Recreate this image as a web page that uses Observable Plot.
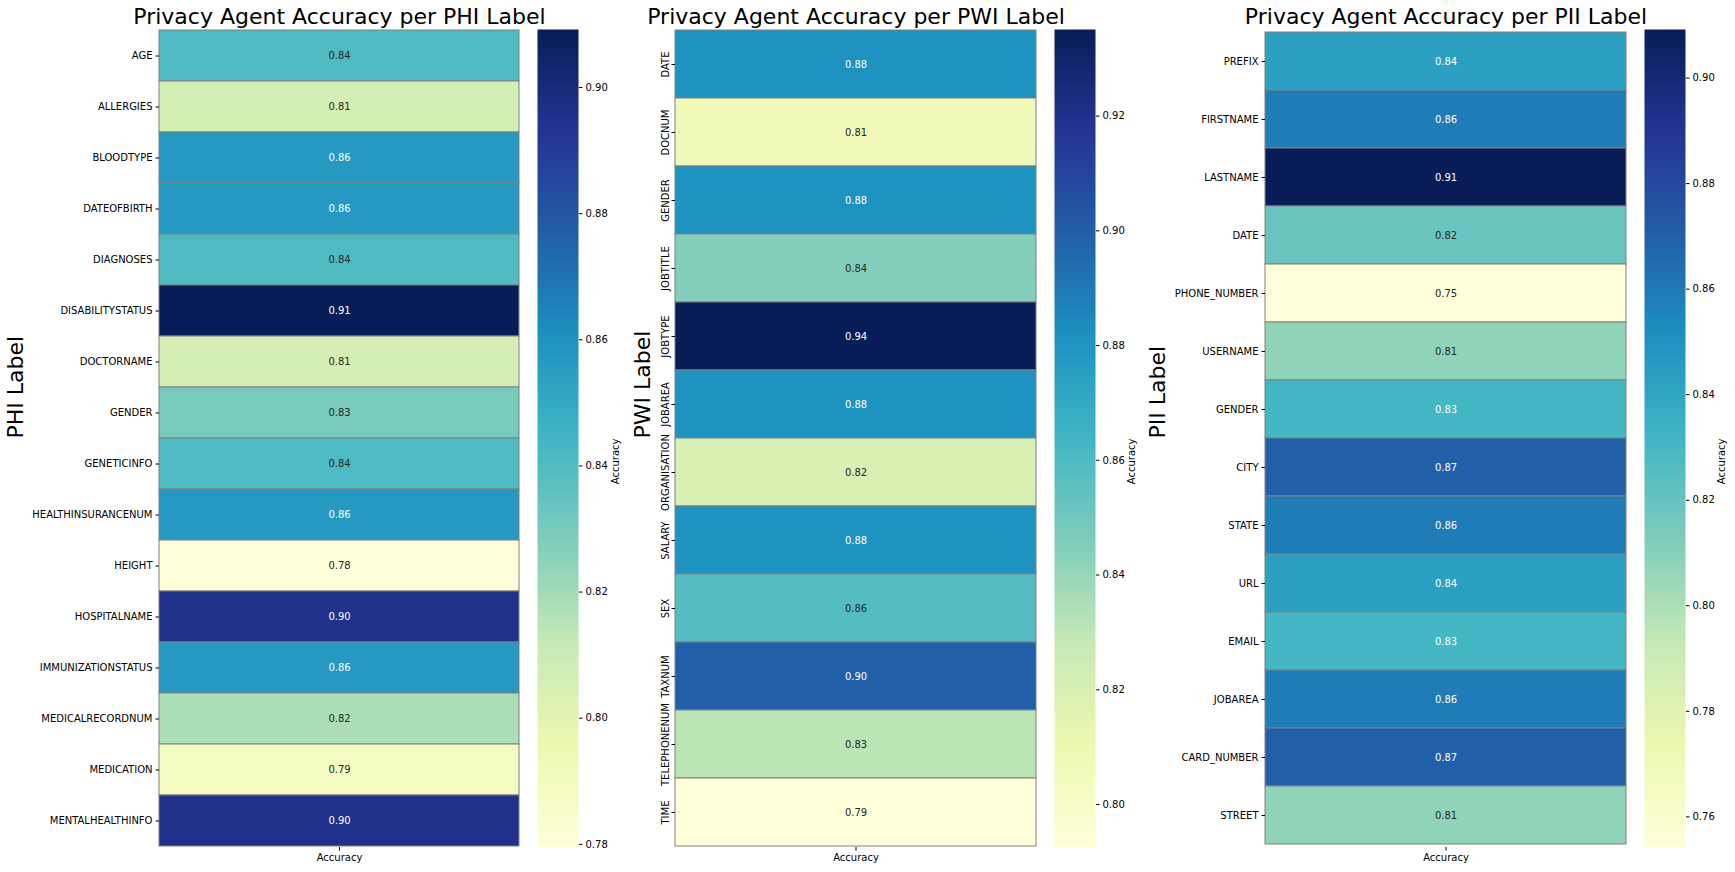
<!DOCTYPE html>
<html>
<head>
<meta charset="utf-8">
<script src="https://cdn.jsdelivr.net/npm/d3@7"></script>
<script src="https://cdn.jsdelivr.net/npm/@observablehq/plot@0.6"></script>
<style>
  html, body { margin: 0; padding: 0; background: #ffffff; }
  #fig { position: relative; width: 1735px; height: 872px; font-family: "DejaVu Sans", sans-serif; }
  #fig svg { position: absolute; top: 0; overflow: visible; max-width: none; }
</style>
</head>
<body>
<div id="fig"></div>
<script>
// ---------- data ----------
const phiLabels = ["AGE","ALLERGIES","BLOODTYPE","DATEOFBIRTH","DIAGNOSES","DISABILITYSTATUS","DOCTORNAME","GENDER","GENETICINFO","HEALTHINSURANCENUM","HEIGHT","HOSPITALNAME","IMMUNIZATIONSTATUS","MEDICALRECORDNUM","MEDICATION","MENTALHEALTHINFO"];
const phiValues = [0.841, 0.806, 0.857, 0.857, 0.841, 0.9092, 0.806, 0.830, 0.841, 0.857, 0.7795, 0.8955, 0.857, 0.818, 0.789, 0.8955];

const pwiLabels = ["DATE","DOCNUM","GENDER","JOBTITLE","JOBTYPE","JOBAREA","ORGANISATION","SALARY","SEX","TAXNUM","TELEPHONENUM","TIME"];
const pwiValues = [0.881, 0.807, 0.881, 0.845, 0.9351, 0.881, 0.820, 0.881, 0.858, 0.899, 0.831, 0.7925];

const piiLabels = ["PREFIX","FIRSTNAME","LASTNAME","DATE","PHONE_NUMBER","USERNAME","GENDER","CITY","STATE","URL","EMAIL","JOBAREA","CARD_NUMBER","STREET"];
const piiValues = [0.843, 0.859, 0.9092, 0.819, 0.7542, 0.808, 0.831, 0.870, 0.859, 0.843, 0.831, 0.859, 0.870, 0.808];

const phiTicks = [0.78, 0.80, 0.82, 0.84, 0.86, 0.88, 0.90];
const pwiTicks = [0.80, 0.82, 0.84, 0.86, 0.88, 0.90, 0.92];
const piiTicks = [0.76, 0.78, 0.80, 0.82, 0.84, 0.86, 0.88, 0.90];

const metricName = "Accuracy";
const titles = ["Privacy Agent Accuracy per PHI Label", "Privacy Agent Accuracy per PWI Label", "Privacy Agent Accuracy per PII Label"];
const yTitles = ["PHI Label", "PWI Label", "PII Label"];

// YlGnBu (ColorBrewer 9-class, linear like matplotlib)
const ylgnbu = ["#ffffd9","#edf8b1","#c7e9b4","#7fcdbb","#41b6c4","#1d91c0","#225ea8","#253494","#081d58"];
const interp = d3.piecewise(d3.interpolateRgb, ylgnbu);

// ---------- layout ----------
const H = 872, MT = 29, MB = 25;
const FONT = "DejaVu Sans";

function luminance(c) {
  const rgb = d3.rgb(c);
  const lin = v => { v /= 255; return v <= 0.03928 ? v / 12.92 : Math.pow((v + 0.055) / 1.055, 2.4); };
  return 0.2126 * lin(rgb.r) + 0.7152 * lin(rgb.g) + 0.0722 * lin(rgb.b);
}

function panel(cfg) {
  const { title, ytitle, labels, values, svgLeft, frameLeft, frameRight, cbLeft, cbRight, cbTicks, rotate, ylabelX, cbLabelX } = cfg;
  const data = labels.map((l, i) => ({ label: l, metric: metricName, value: values[i] }));
  const [lo, hi] = d3.extent(values);
  const colorOpts = { type: "linear", domain: [lo, hi], interpolate: interp };
  const cs = Plot.scale({ color: colorOpts });
  const txtColor = d => luminance(cs.apply(d.value)) > 0.408 ? "#262626" : "#ffffff";

  const heat = Plot.plot({
    width: frameRight - svgLeft,
    height: H,
    marginLeft: frameLeft - svgLeft,
    marginRight: 0,
    marginTop: MT,
    marginBottom: MB,
    style: { fontFamily: FONT, fontSize: "10px", color: "#000", background: "transparent", overflow: "visible" },
    x: { type: "band", domain: [metricName], padding: 0, label: null },
    y: { type: "band", domain: labels, padding: 0, label: null },
    color: colorOpts,
    marks: [
      Plot.cell(data, { x: "metric", y: "label", fill: "value", stroke: "#808080", strokeWidth: 1 }),
      Plot.text(data, { x: "metric", y: "label", text: d => d.value.toFixed(2), fill: txtColor, fontSize: 10 }),
      Plot.axisY(rotate
        ? { tickSize: 3.5, tickPadding: 3.5, tickRotate: -90, label: null, fontSize: 10 }
        : { tickSize: 3.5, tickPadding: 3.5, label: null, fontSize: 10 }),
      Plot.axisX({ tickSize: 3.5, tickPadding: 3, label: null, fontSize: 10 }),
      Plot.text([title], { frameAnchor: "top", dy: -6, lineAnchor: "bottom", fontSize: 22, fill: "#000" }),
      Plot.text([ytitle], { frameAnchor: "left", dx: ylabelX - frameLeft, rotate: -90, fontSize: 22, fill: "#000" })
    ]
  });
  heat.style.left = svgLeft + "px";

  const cbW = cbRight - cbLeft;
  const cb = Plot.plot({
    width: cbW + 50,
    height: H,
    marginLeft: 0,
    marginRight: 50,
    marginTop: MT,
    marginBottom: MB,
    style: { fontFamily: FONT, fontSize: "10px", color: "#000", background: "transparent", overflow: "visible" },
    x: { domain: [0, 1], axis: null },
    y: { domain: [lo, hi], axis: null },
    color: colorOpts,
    marks: [
      Plot.raster({ x1: 0, x2: 1, y1: lo, y2: hi, fill: (x, y) => y, width: 1, height: 600 }),
      Plot.axisY({ anchor: "right", ticks: cbTicks, tickFormat: ".2f", tickSize: 3.5, tickPadding: 3.5, label: null, fontSize: 10 }),
      Plot.text([metricName], { frameAnchor: "right", dx: cbLabelX - cbRight, rotate: -90, fontSize: 10, fill: "#000" })
    ]
  });
  cb.style.left = cbLeft + "px";

  const fig = document.getElementById("fig");
  fig.appendChild(heat);
  fig.appendChild(cb);
}

panel({ title: titles[0], ytitle: yTitles[0], labels: phiLabels, values: phiValues,
  svgLeft: 0, frameLeft: 159, frameRight: 519, cbLeft: 537, cbRight: 578, cbTicks: phiTicks,
  rotate: false, ylabelX: 15, cbLabelX: 615 });
panel({ title: titles[1], ytitle: yTitles[1], labels: pwiLabels, values: pwiValues,
  svgLeft: 625, frameLeft: 675, frameRight: 1036, cbLeft: 1054, cbRight: 1095, cbTicks: pwiTicks,
  rotate: true, ylabelX: 642, cbLabelX: 1131 });
panel({ title: titles[2], ytitle: yTitles[2], labels: piiLabels, values: piiValues,
  svgLeft: 1140, frameLeft: 1265, frameRight: 1626, cbLeft: 1644, cbRight: 1685, cbTicks: piiTicks,
  rotate: false, ylabelX: 1157, cbLabelX: 1721 });
</script>
</body>
</html>
